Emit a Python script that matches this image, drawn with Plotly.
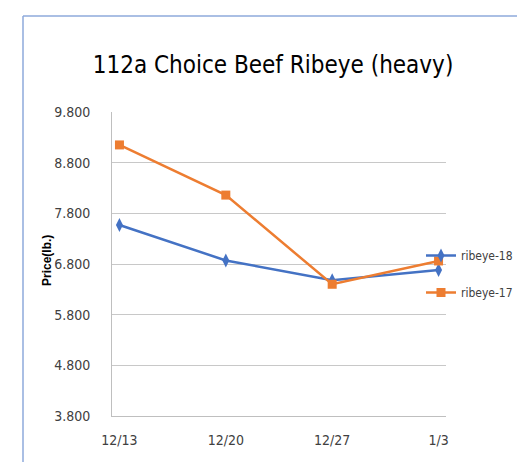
import plotly.graph_objects as go

categories = ["12/13", "12/20", "12/27", "1/3"]
ribeye_18 = [7.57, 6.87, 6.48, 6.68]
ribeye_17 = [9.15, 8.16, 6.40, 6.86]
y_ticks = [3.8, 4.8, 5.8, 6.8, 7.8, 8.8, 9.8]

FONT = "DejaVu Sans Condensed, Liberation Sans Narrow, Arial Narrow, sans-serif"
BLUE = "#4472c4"
ORANGE = "#ed7d31"

fig = go.Figure()
fig.add_trace(go.Scatter(
    x=list(range(len(categories))), y=ribeye_18, name="ribeye-18",
    mode="lines+markers", line=dict(color=BLUE, width=2.5),
    marker=dict(symbol="diamond-tall", size=10, color=BLUE),
    legendgroup="a"))
fig.add_trace(go.Scatter(
    x=list(range(len(categories))), y=ribeye_17, name="ribeye-17",
    mode="lines+markers", line=dict(color=ORANGE, width=2.5),
    marker=dict(symbol="square", size=9, color=ORANGE),
    legendgroup="b"))

fig.update_layout(
    width=525, height=462,
    margin=dict(l=104, r=87, t=104, b=54, autoexpand=False),
    paper_bgcolor="white", plot_bgcolor="white",
    font=dict(family=FONT, size=13, color="#404040"),
    title=dict(text="112a Choice Beef Ribeye (heavy)", x=(265 - 104) / 334, xref="paper",
               xanchor="center",
               y=1 - 57 / 462, yanchor="middle",
               font=dict(family=FONT, size=24, color="#000000")),
    showlegend=True,
    legend=dict(x=(413 - 104) / 334, y=(408 - 233) / 304, xanchor="left", yanchor="top",
                font=dict(family=FONT, size=12, color="#404040"),
                tracegroupgap=18, bgcolor="rgba(0,0,0,0)", itemwidth=30,
                borderwidth=0),
    xaxis=dict(
        tickmode="array", tickvals=list(range(len(categories))), ticktext=categories,
        range=[-0.07, 3.07], showgrid=False, zeroline=False,
        showline=True, linecolor="#bfbfbf", linewidth=1,
        ticks="", ticklabelstandoff=11,
        tickfont=dict(family=FONT, size=14, color="#404040")),
    yaxis=dict(
        tickmode="array", tickvals=y_ticks, ticktext=[f"{v:.3f}" for v in y_ticks],
        range=[3.8, 9.8], showgrid=True, gridcolor="#c8c8c8", gridwidth=1,
        zeroline=False, showline=True, linecolor="#bfbfbf", linewidth=1,
        ticks="", ticklabelstandoff=18,
        tickfont=dict(family=FONT, size=14, color="#404040")),
    annotations=[
        dict(text="<b>Price(lb.)</b>", xref="paper", yref="paper",
             x=(39 - 104) / 334, y=(408 - 253) / 304, xanchor="center", yanchor="middle",
             textangle=-90, showarrow=False,
             font=dict(family="Liberation Sans, Arial, sans-serif", size=12, color="#000000")),
    ],
    shapes=[
        dict(type="line", xref="paper", yref="paper",
             x0=(15 - 104) / 334, x1=(525 - 104) / 334,
             y0=(462 - 54 - 8) / 304, y1=(462 - 54 - 8) / 304,
             line=dict(color="#8eaadb", width=1.5)),
        dict(type="line", xref="paper", yref="paper",
             x0=(15 - 104) / 334, x1=(15 - 104) / 334,
             y0=(462 - 54 - 8) / 304, y1=-54 / 304,
             line=dict(color="#8eaadb", width=1.5)),
    ],
)

fig.write_html("out.html")
